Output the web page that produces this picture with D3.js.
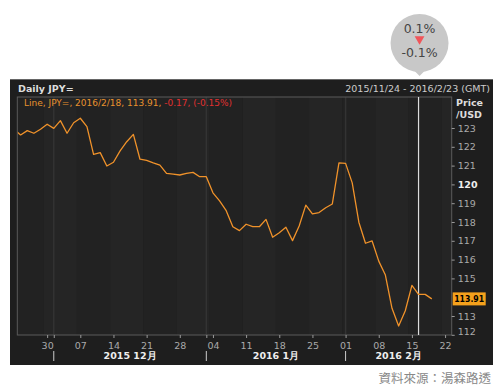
<!DOCTYPE html>
<html>
<head>
<meta charset="utf-8">
<script src="https://cdn.jsdelivr.net/npm/d3@7"></script>
<style>
  body { margin: 0; background: #fff; }
  svg { font-family: "DejaVu Sans", "Noto Sans", sans-serif; }
</style>
</head>
<body>
<div id="chart"></div>
<script>
// trading days from 2015/11/23 (Mon) to 2016/2/18 (Thu), weekdays only
const firstDay = new Date(2015, 10, 23);
const closes = [
  122.93, 122.63, 122.86, 122.72, 122.93, 123.20, 122.98, 123.39, 122.72, 123.28,
  123.52, 123.07, 121.60, 121.69, 120.98, 121.18, 121.78, 122.27, 122.66, 121.34,
  121.28, 121.15, 121.03, 120.59, 120.55, 120.50, 120.59, 120.64, 120.41, 120.41,
  119.55, 119.12, 118.60, 117.75, 117.54, 117.88, 117.75, 117.75, 118.14, 117.19,
  117.43, 117.72, 117.01, 117.79, 118.90, 118.43, 118.50, 118.76, 118.96, 121.15,
  121.12, 120.08, 117.99, 116.87, 116.99, 115.92, 115.18, 113.41, 112.47, 113.28,
  114.63, 114.15, 114.15, 113.91
];
const yTicks = [112, 113, 115, 116, 117, 118, 119, 120, 121, 122, 123];
const lastValue = 113.91;
const cursorDate = new Date(2016, 1, 16);
const months = [
  {label: "2015 12月", start: new Date(2015, 11, 1)},
  {label: "2016 1月", start: new Date(2016, 0, 1)},
  {label: "2016 2月", start: new Date(2016, 1, 1)}
];

const W = 500, H = 388;
const plot = {left: 17.3, right: 451.7, top: 97, bottom: 335};

const svg = d3.select("#chart").append("svg")
    .attr("width", W).attr("height", H);

// index every weekday so the x axis skips weekends
const days = d3.timeDay.range(firstDay, new Date(2016, 1, 24))
    .filter(d => d.getDay() !== 0 && d.getDay() !== 6);
const idx = d => days.findIndex(e => +e === +d3.timeDay.floor(d));
const data = closes.map((v, i) => ({date: days[i], value: v}));

const x = d3.scaleLinear()
    .domain([0.5, idx(new Date(2016, 1, 23))])
    .range([plot.left, plot.right]);
const y = d3.scaleLinear()
    .domain([112, 123])
    .range([334.8, 128]);

// dark panel
svg.append("rect")
    .attr("x", 10).attr("y", 79).attr("width", 483).attr("height", 286)
    .attr("fill", "#1e1e1e");
svg.append("line")
    .attr("x1", 10).attr("x2", 493).attr("y1", 79.5).attr("y2", 79.5)
    .attr("stroke", "#666");

svg.append("text")
    .attr("x", 18).attr("y", 92)
    .attr("fill", "#ddd").style("font-size", "9.5px").style("font-weight", "bold")
    .text("Daily JPY=");
svg.append("text")
    .attr("x", 490).attr("y", 92).attr("text-anchor", "end")
    .attr("fill", "#ccc").style("font-size", "9.5px")
    .text("2015/11/24 - 2016/2/23 (GMT)");

// weekly bands
const mondays = days.filter(d => d.getDay() === 1);
const bandEdges = [firstDay].concat(mondays.slice(1));
svg.append("g").selectAll("rect")
    .data(bandEdges)
    .enter().append("rect")
    .attr("x", d => Math.max(plot.left, x(idx(d) - 0.5)))
    .attr("y", plot.top)
    .attr("width", (d, i) => {
      const x0 = Math.max(plot.left, x(idx(d) - 0.5));
      const x1 = i + 1 < bandEdges.length ? x(idx(bandEdges[i + 1]) - 0.5) : plot.right;
      return Math.max(0, Math.min(plot.right, x1) - x0);
    })
    .attr("height", plot.bottom - plot.top)
    .attr("fill", (d, i) => i % 2 ? "#252525" : "#222222");

// month gridlines
svg.append("g").selectAll("line")
    .data(months)
    .enter().append("line")
    .attr("x1", d => x(idx(d.start))).attr("x2", d => x(idx(d.start)))
    .attr("y1", plot.top).attr("y2", plot.bottom)
    .attr("stroke", "#333").attr("stroke-width", 1.5);

// plot frame
svg.append("rect")
    .attr("x", plot.left).attr("y", plot.top)
    .attr("width", plot.right - plot.left).attr("height", plot.bottom - plot.top)
    .attr("fill", "none").attr("stroke", "#5a5a5a");

svg.append("clipPath").attr("id", "clip")
  .append("rect")
    .attr("x", plot.left + 0.5).attr("y", plot.top)
    .attr("width", plot.right - plot.left - 1).attr("height", plot.bottom - plot.top);

// cursor
svg.append("line")
    .attr("x1", x(idx(cursorDate))).attr("x2", x(idx(cursorDate)))
    .attr("y1", plot.top).attr("y2", plot.bottom)
    .attr("stroke", "#ddd").attr("stroke-width", 1.2);

const line = d3.line()
    .x((d, i) => x(i))
    .y(d => y(d.value));
svg.append("path")
    .datum(data)
    .attr("clip-path", "url(#clip)")
    .attr("d", line)
    .attr("fill", "none")
    .attr("stroke", "#f0922a")
    .attr("stroke-width", 1.3)
    .attr("stroke-linejoin", "round");

// legend line
const leg = svg.append("text")
    .attr("x", 24).attr("y", 106)
    .style("font-size", "9px");
leg.append("tspan").attr("fill", "#e8922e")
    .text("Line, JPY=, 2016/2/18, " + lastValue.toFixed(2) + ", ");
leg.append("tspan").attr("fill", "#e03030")
    .text("-0.17, (-0.15%)");

// y axis
const yAxis = svg.append("g")
    .attr("transform", "translate(" + plot.right + ",0)")
    .call(d3.axisRight(y).tickValues(yTicks).tickSize(3).tickPadding(3)
      .tickFormat(d3.format("d")));
yAxis.select(".domain").remove();
yAxis.selectAll("line").attr("stroke", "#999");
yAxis.selectAll("text")
    .attr("fill", d => d === 120 ? "#eee" : "#aaa")
    .style("font-weight", d => d === 120 ? "bold" : "normal")
    .style("font-size", "9.5px")
    .style("font-family", "DejaVu Sans, sans-serif")
    .attr("dy", d => d === 112 ? "-0.05em" : "0.32em");

svg.append("text")
    .attr("x", 456).attr("y", 106)
    .attr("fill", "#ddd").style("font-size", "9.5px").style("font-weight", "bold")
    .text("Price");
svg.append("text")
    .attr("x", 456).attr("y", 118)
    .attr("fill", "#ddd").style("font-size", "9.5px").style("font-weight", "bold")
    .text("/USD");

// last value marker
svg.append("rect")
    .attr("x", plot.right + 1).attr("y", y(lastValue) - 6.5)
    .attr("width", 33).attr("height", 13)
    .attr("fill", "#f5a11c");
svg.append("text")
    .attr("x", plot.right + 2.5).attr("y", y(lastValue) + 3.5)
    .attr("textLength", 30).attr("lengthAdjust", "spacingAndGlyphs")
    .attr("fill", "#000").style("font-size", "9.5px").style("font-weight", "bold")
    .text(lastValue.toFixed(2));

// x axis
const xTicks = mondays.slice(1).concat(months.slice(0, 2).map(m => m.start));
const xAxis = svg.append("g")
    .attr("transform", "translate(0," + plot.bottom + ")")
    .call(d3.axisBottom(x)
      .tickValues(xTicks.map(idx))
      .tickSize(3).tickPadding(4)
      .tickFormat(i => days[i].getDay() === 1 ? d3.timeFormat("%d")(days[i]) : ""));
xAxis.select(".domain").remove();
xAxis.selectAll("line").attr("stroke", "#999");
xAxis.selectAll("text")
    .attr("fill", "#aaa")
    .style("font-size", "9.5px")
    .style("font-family", "DejaVu Sans, sans-serif");

// month separators and labels
svg.append("g").selectAll("line")
    .data(months)
    .enter().append("line")
    .attr("x1", d => x(idx(d.start))).attr("x2", d => x(idx(d.start)))
    .attr("y1", 351).attr("y2", 361)
    .attr("stroke", "#ccc");
svg.append("g").selectAll("text")
    .data(months)
    .enter().append("text")
    .attr("x", (d, i) => {
      const x0 = x(idx(d.start));
      const x1 = i + 1 < months.length ? x(idx(months[i + 1].start)) : plot.right;
      return (x0 + x1) / 2;
    })
    .attr("y", 359)
    .attr("text-anchor", "middle")
    .attr("fill", "#eee")
    .style("font-size", "9.5px").style("font-weight", "bold")
    .text(d => d.label);

// change bubble
const bx = x(idx(cursorDate)) + 1, by = 43;
svg.append("path")
    .attr("d", "M" + (bx - 9) + "," + (by + 24) + "L" + bx + "," + (by + 33) + "L" + (bx + 9) + "," + (by + 24) + "Z")
    .attr("fill", "#c8c8c8");
svg.append("circle")
    .attr("cx", bx).attr("cy", by).attr("r", 29)
    .attr("fill", "#c8c8c8");
svg.append("text")
    .attr("x", bx).attr("y", by - 10).attr("text-anchor", "middle")
    .attr("fill", "#444").style("font-size", "12.5px")
    .text("0.1%");
svg.append("path")
    .attr("d", d3.symbol(d3.symbolTriangle, 42)())
    .attr("transform", "translate(" + bx + "," + (by - 4) + ") rotate(180)")
    .attr("fill", "#f0555a");
svg.append("text")
    .attr("x", bx).attr("y", by + 14).attr("text-anchor", "middle")
    .attr("fill", "#444").style("font-size", "12.5px")
    .text("-0.1%");

// source
svg.append("text")
    .attr("x", 491).attr("y", 383).attr("text-anchor", "end")
    .attr("fill", "#888").style("font-size", "12.5px")
    .style("font-family", "Noto Sans CJK TC, sans-serif")
    .text("資料來源：湯森路透");
</script>
</body>
</html>
